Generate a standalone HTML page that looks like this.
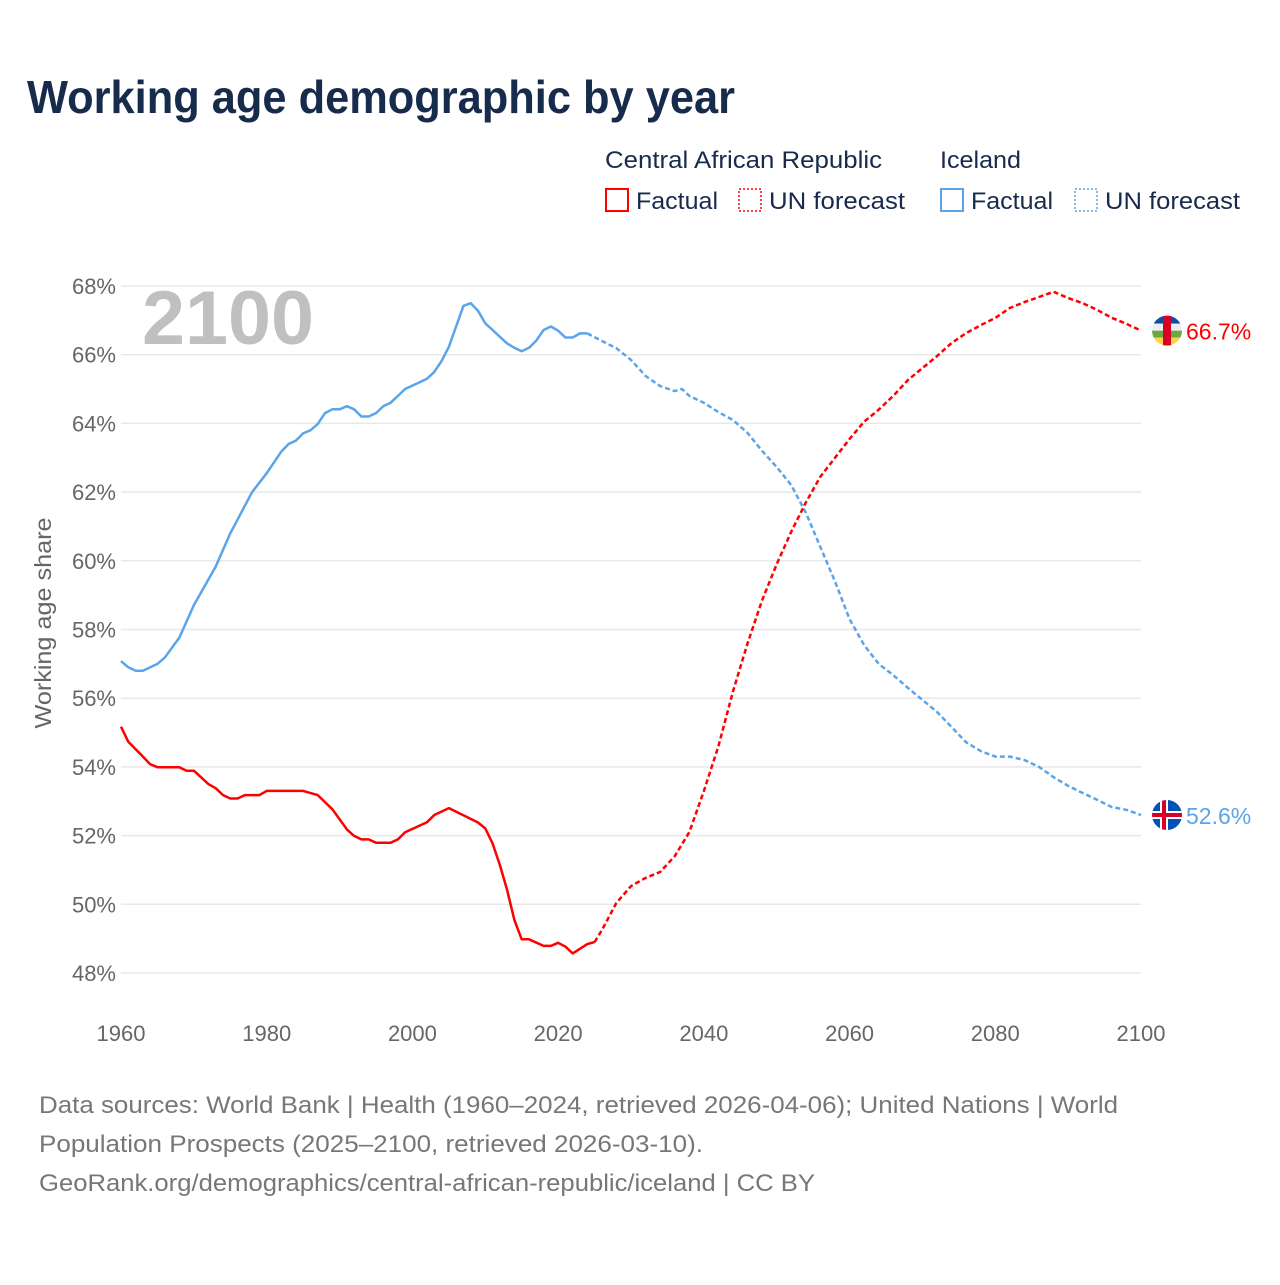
<!DOCTYPE html>
<html><head><meta charset="utf-8"><style>
body{margin:0;background:#fff;font-family:"Liberation Sans",sans-serif;}
svg text{font-family:"Liberation Sans",sans-serif;}
</style></head><body>
<svg id="chart" width="1280" height="1280" viewBox="0 0 1280 1280">
<rect width="1280" height="1280" fill="#fff"/>
<text x="27" y="113" font-size="46" font-weight="bold" fill="#172b4d" textLength="708" lengthAdjust="spacingAndGlyphs">Working age demographic by year</text>
<g>
<text x="605" y="168" font-size="24" fill="#172b4d" textLength="277" lengthAdjust="spacingAndGlyphs">Central African Republic</text>
<text x="940" y="168" font-size="24" fill="#172b4d" textLength="81" lengthAdjust="spacingAndGlyphs">Iceland</text>
<g><rect x="606" y="189" width="22" height="22" fill="none" stroke="#f00" stroke-width="2"/><text x="636" y="209" font-size="24" fill="#172b4d" textLength="82" lengthAdjust="spacingAndGlyphs">Factual</text></g>
<g><rect x="739" y="189" width="22" height="22" fill="none" stroke="#f00" stroke-width="1.5" stroke-dasharray="2,2"/><text x="769" y="209" font-size="24" fill="#172b4d" textLength="136" lengthAdjust="spacingAndGlyphs">UN forecast</text></g>
<g><rect x="941" y="189" width="22" height="22" fill="none" stroke="#5aa5ea" stroke-width="2"/><text x="971" y="209" font-size="24" fill="#172b4d" textLength="82" lengthAdjust="spacingAndGlyphs">Factual</text></g>
<g><rect x="1075" y="189" width="22" height="22" fill="none" stroke="#5aa5ea" stroke-width="1.5" stroke-dasharray="2,2"/><text x="1105" y="209" font-size="24" fill="#172b4d" textLength="135" lengthAdjust="spacingAndGlyphs">UN forecast</text></g>
</g>
<g id="grid"></g>
<text x="142" y="344" font-size="76" font-weight="bold" fill="#c0c0c0" textLength="172" lengthAdjust="spacingAndGlyphs">2100</text>
<text transform="translate(51,623) rotate(-90)" text-anchor="middle" font-size="23" fill="#666" textLength="211" lengthAdjust="spacingAndGlyphs">Working age share</text>
<g id="series"></g>
<g font-size="24" fill="#777">
<text x="39" y="1113" textLength="1079" lengthAdjust="spacingAndGlyphs">Data sources: World Bank | Health (1960–2024, retrieved 2026-04-06); United Nations | World</text>
<text x="39" y="1152" textLength="664" lengthAdjust="spacingAndGlyphs">Population Prospects (2025–2100, retrieved 2026-03-10).</text>
<text x="39" y="1191" textLength="776" lengthAdjust="spacingAndGlyphs">GeoRank.org/demographics/central-african-republic/iceland | CC BY</text>
</g>
</svg>
<script>
const yTicks=[48,50,52,54,56,58,60,62,64,66,68];
const xTicks=[1960,1980,2000,2020,2040,2060,2080,2100];
const isYearsF=[1960,1961,1962,1963,1965,1966,1968,1970,1973,1975,1978,1980,1982,1983,1984,1985,1986,1987,1988,1989,1990,1991,1992,1993,1994,1995,1996,1997,1998,1999,2000,2001,2002,2003,2004,2005,2006,2007,2008,2009,2010,2011,2012,2013,2014,2015,2016,2017,2018,2019,2020,2021,2022,2023,2024];
const isValsF=[57.08,56.9,56.8,56.8,57.0,57.18,57.76,58.71,59.83,60.8,62.0,62.55,63.18,63.4,63.5,63.71,63.8,63.98,64.3,64.41,64.41,64.5,64.41,64.2,64.2,64.3,64.5,64.6,64.8,65.0,65.1,65.2,65.3,65.5,65.82,66.23,66.82,67.42,67.5,67.28,66.91,66.72,66.52,66.33,66.2,66.1,66.2,66.41,66.72,66.82,66.7,66.5,66.5,66.62,66.62];
const isYearsP=[2024,2026,2028,2030,2032,2034,2036,2037,2038,2040,2042,2044,2046,2048,2050,2052,2054,2056,2058,2060,2062,2064,2066,2068,2070,2072,2074,2076,2078,2080,2082,2084,2086,2088,2090,2092,2094,2096,2098,2100];
const isValsP=[66.62,66.4,66.19,65.85,65.38,65.09,64.94,65.0,64.8,64.6,64.33,64.1,63.72,63.2,62.73,62.2,61.4,60.4,59.4,58.3,57.55,57.0,56.67,56.3,55.95,55.6,55.16,54.72,54.46,54.3,54.3,54.2,54.0,53.7,53.45,53.24,53.04,52.83,52.75,52.6];
const cfYearsF=[1960,1961,1963,1964,1965,1968,1969,1970,1972,1973,1974,1975,1976,1977,1979,1980,1985,1987,1989,1991,1992,1993,1994,1995,1997,1998,1999,2002,2003,2005,2009,2010,2011,2012,2013,2014,2015,2016,2018,2019,2020,2021,2022,2024,2025];
const cfValsF=[55.17,54.73,54.3,54.08,53.99,53.99,53.89,53.89,53.5,53.38,53.18,53.08,53.08,53.18,53.18,53.3,53.3,53.18,52.77,52.18,51.99,51.89,51.89,51.79,51.79,51.89,52.1,52.39,52.6,52.8,52.38,52.21,51.77,51.14,50.42,49.54,48.98,48.98,48.79,48.79,48.88,48.77,48.57,48.84,48.9];
const cfYearsP=[2025,2026,2028,2030,2032,2034,2036,2038,2040,2042,2044,2046,2048,2050,2052,2054,2056,2058,2060,2062,2064,2066,2068,2070,2072,2074,2076,2078,2080,2082,2084,2086,2088,2090,2092,2094,2096,2098,2100];
const cfValsP=[48.9,49.25,50.04,50.53,50.77,50.94,51.4,52.1,53.3,54.6,56.2,57.6,58.85,59.9,60.85,61.7,62.45,63.0,63.55,64.05,64.4,64.8,65.26,65.61,65.96,66.34,66.63,66.86,67.07,67.36,67.53,67.68,67.83,67.65,67.5,67.3,67.07,66.9,66.7];
const NS='http://www.w3.org/2000/svg';
const X0=121,X1=1141,Y68=286,Y48=973;
function xs(y){return X0+(y-1960)*(X1-X0)/140;}
function ys(v){return Y48-(v-48)*(Y48-Y68)/20;}
const grid=document.getElementById('grid');
function mk(tag,attrs,parent){const e=document.createElementNS(NS,tag);for(const k in attrs)e.setAttribute(k,attrs[k]);parent.appendChild(e);return e;}
yTicks.forEach(t=>{
 const l=mk('line',{x1:X0,x2:X1,y1:ys(t),y2:ys(t),stroke:'#e8e8e8','stroke-width':1.5},grid);
 
 
 const tx=mk('text',{x:116,y:ys(t)+8,'text-anchor':'end','font-size':22,fill:'#666'},grid);
 tx.textContent=t+'%';
 
 
});
xTicks.forEach(t=>{
 const tx=mk('text',{x:xs(t),y:1041,'text-anchor':'middle','font-size':22,fill:'#666'},grid);
 tx.textContent=t;
 
 
});
const ser=document.getElementById('series');
function line(ya,va,color,dash,name){
 const p=mk('polyline',{points:ya.map((y,i)=>xs(y).toFixed(1)+','+ys(va[i]).toFixed(1)).join(' '),fill:'none',stroke:color,'stroke-width':2.5,'stroke-linejoin':'round'},ser);
 if(dash)p.setAttribute('stroke-dasharray','5,3');
 
 
}
line(isYearsF,isValsF,'#5aa5ea',false,'iceland-factual-line');
line(isYearsP,isValsP,'#5aa5ea',true,'iceland-forecast-line');
line(cfYearsF,cfValsF,'#ff0000',false,'car-factual-line');
line(cfYearsP,cfValsP,'#ff0000',true,'car-forecast-line');
const cy1=ys(cfValsP[cfValsP.length-1]),cy2=ys(isValsP[isValsP.length-1]);
const g1=mk('g',{},ser);


const cp1=mk('clipPath',{id:'c1'},g1);mk('circle',{cx:1167,cy:cy1,r:15},cp1);
const f1=mk('g',{'clip-path':'url(#c1)'},g1);
mk('rect',{x:1152,y:cy1-15,width:30,height:8,fill:'#0b4ea2'},f1);
mk('rect',{x:1152,y:cy1-7,width:30,height:7,fill:'#eee'},f1);
mk('rect',{x:1152,y:cy1,width:30,height:7,fill:'#6aa842'},f1);
mk('rect',{x:1152,y:cy1+7,width:30,height:8,fill:'#ffd24a'},f1);
mk('rect',{x:1163,y:cy1-15,width:8,height:30,fill:'#d80027'},f1);
const l1=mk('text',{x:1186,y:cy1+9,'font-size':23,fill:'#ff0000'},ser);
l1.textContent='66.7%';


const g2=mk('g',{},ser);


const cp2=mk('clipPath',{id:'c2'},g2);mk('circle',{cx:1167,cy:cy2,r:15},cp2);
const f2=mk('g',{'clip-path':'url(#c2)'},g2);
mk('rect',{x:1152,y:cy2-15,width:30,height:30,fill:'#0052b4'},f2);
mk('rect',{x:1152,y:cy2-4,width:30,height:8,fill:'#fff'},f2);
mk('rect',{x:1160,y:cy2-15,width:8,height:30,fill:'#fff'},f2);
mk('rect',{x:1152,y:cy2-2,width:30,height:4,fill:'#d80027'},f2);
mk('rect',{x:1162,y:cy2-15,width:4,height:30,fill:'#d80027'},f2);
const l2=mk('text',{x:1186,y:cy2+9,'font-size':23,fill:'#5aa5ea'},ser);
l2.textContent='52.6%';


</script>
</body></html>
